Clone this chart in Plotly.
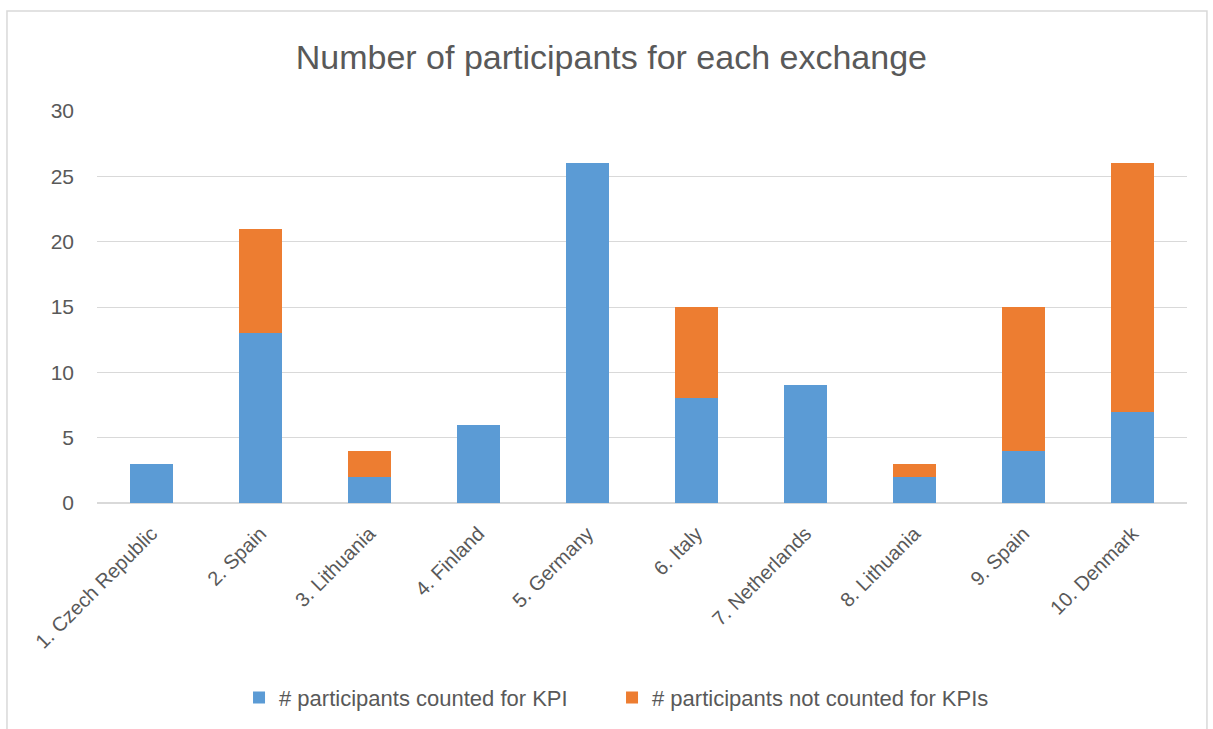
import plotly.graph_objects as go

categories = ["1. Czech Republic", "2. Spain", "3. Lithuania", "4. Finland", "5. Germany",
              "6. Italy", "7. Netherlands", "8. Lithuania", "9. Spain", "10. Denmark"]
counted = [3, 13, 2, 6, 26, 8, 9, 2, 4, 7]
not_counted = [0, 8, 2, 0, 0, 7, 0, 1, 11, 19]
series_names = ["# participants counted for KPI", "# participants not counted for KPIs"]
title_text = "Number of participants for each exchange"

FONT = "Liberation Sans, Arial, sans-serif"
GREY = "#595959"

fig = go.Figure()
fig.add_trace(go.Bar(x=categories, y=counted, name=series_names[0], marker_color="#5B9BD5",
                     marker_line_width=0, legend="legend"))
fig.add_trace(go.Bar(x=categories, y=not_counted, name=series_names[1], marker_color="#ED7D31",
                     marker_line_width=0, legend="legend2"))

legend_common = dict(orientation="h", xanchor="left", y=-0.497, yanchor="middle",
                     font=dict(family=FONT, size=22, color=GREY), itemwidth=30,
                     bgcolor="rgba(0,0,0,0)")

fig.update_layout(
    width=1213, height=729,
    barmode="stack", bargap=0.6,
    paper_bgcolor="white", plot_bgcolor="white",
    margin=dict(l=97, r=26, t=111, b=226, autoexpand=False),
    title=dict(text=title_text, x=0.504, xanchor="center", xref="container",
               y=1 - 57 / 729, yanchor="middle", yref="container",
               font=dict(family=FONT, size=34, color=GREY)),
    font=dict(family=FONT, size=20, color=GREY),
    showlegend=True,
    legend=dict(x=0.1303, **legend_common),
    legend2=dict(x=0.4725, **legend_common),
    xaxis=dict(tickangle=-45, showgrid=False, showline=True, linecolor="#d9d9d9",
               ticks="", ticklabelstandoff=10, tickfont=dict(size=20, color=GREY)),
    yaxis=dict(range=[0, 30], dtick=5, showgrid=True, gridcolor="#d9d9d9", gridwidth=1,
               zeroline=True, zerolinecolor="#d9d9d9", ticks="", ticklabelstandoff=22,
               tickfont=dict(size=21, color=GREY)),
    shapes=[dict(type="rect", xref="paper", yref="paper",
                 x0=-0.0826, x1=1.0183, y0=-0.60, y1=1.255,
                 line=dict(color="#d9d9d9", width=1.5), fillcolor="rgba(0,0,0,0)", layer="below")],
)

fig.write_html("out.html", config={"displayModeBar": False},
               post_script="document.body.style.margin='0';")
